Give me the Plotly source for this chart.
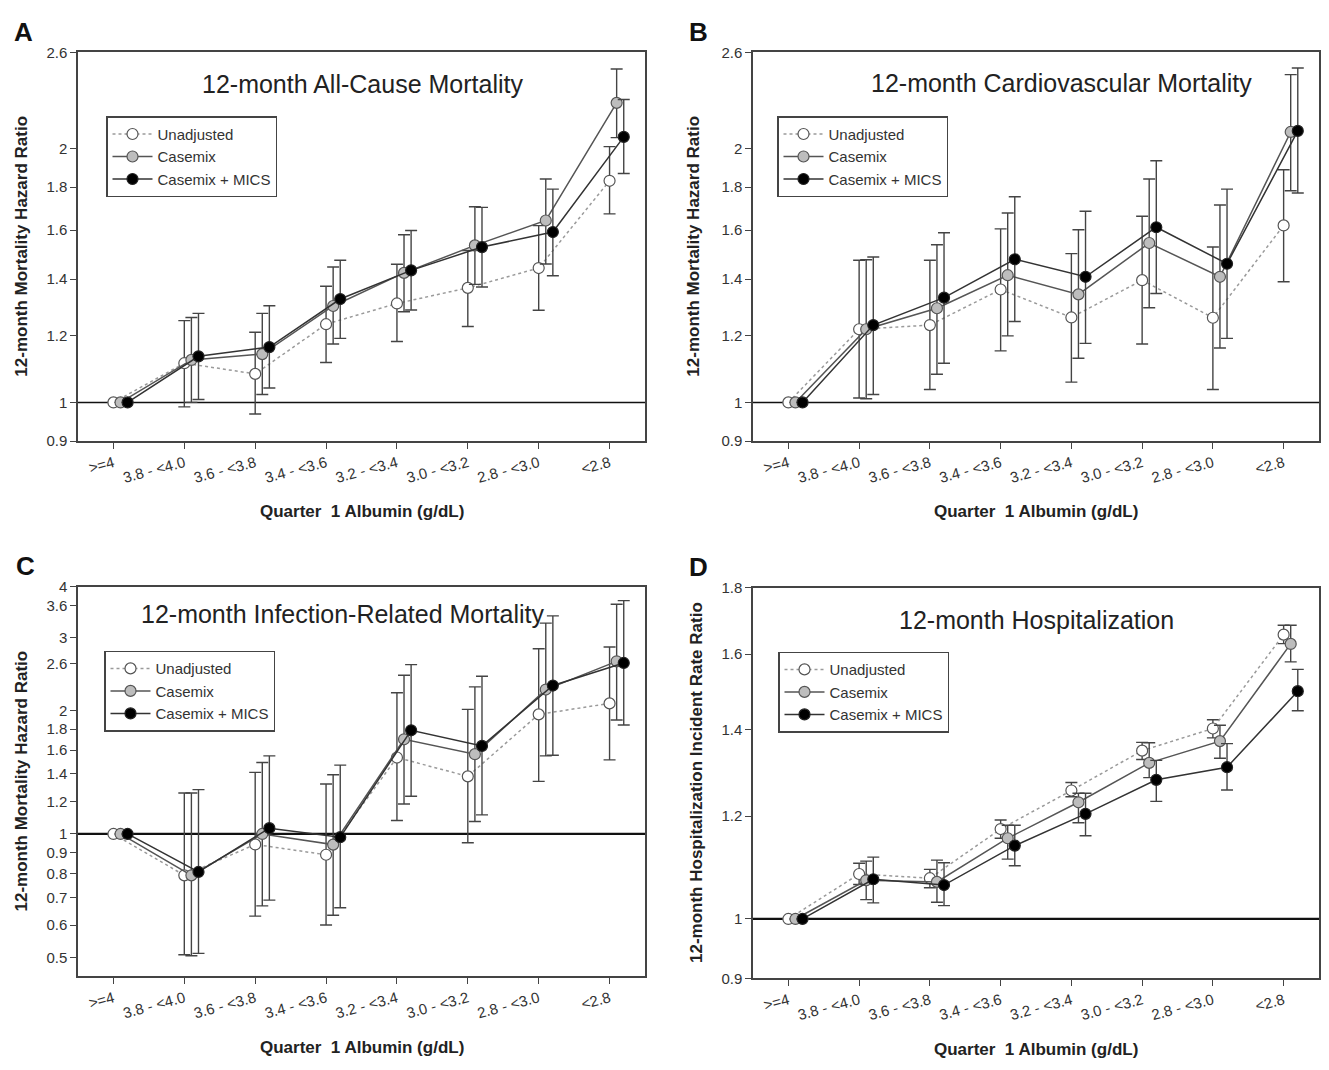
import math
import plotly.graph_objects as go

W, H = 1329, 1070

categories = [">=4", "3.8 - <4.0", "3.6 - <3.8", "3.4 - <3.6",
              "3.2 - <3.4", "3.0 - <3.2", "2.8 - <3.0", "<2.8"]
series_names = ["Unadjusted", "Casemix", "Casemix + MICS"]

# Panel A: 12-month all-cause mortality
a_unadj    = [1.00, 1.113, 1.081, 1.238, 1.310, 1.367, 1.443, 1.831]
a_unadj_lo = [1.00, 0.988, 0.969, 1.115, 1.181, 1.230, 1.286, 1.673]
a_unadj_hi = [1.00, 1.250, 1.211, 1.373, 1.458, 1.514, 1.620, 2.010]
a_case     = [1.00, 1.123, 1.141, 1.301, 1.424, 1.535, 1.643, 2.265]
a_case_lo  = [1.00, 1.000, 1.022, 1.173, 1.281, 1.380, 1.459, 2.060]
a_case_hi  = [1.00, 1.261, 1.275, 1.447, 1.580, 1.706, 1.840, 2.484]
a_mics     = [1.00, 1.134, 1.163, 1.326, 1.434, 1.528, 1.592, 2.064]
a_mics_lo  = [1.00, 1.008, 1.040, 1.191, 1.287, 1.370, 1.413, 1.868]
a_mics_hi  = [1.00, 1.275, 1.302, 1.474, 1.599, 1.703, 1.790, 2.286]

# Panel B: 12-month cardiovascular mortality
b_unadj    = [1.00, 1.221, 1.235, 1.361, 1.261, 1.396, 1.260, 1.621]
b_unadj_lo = [1.00, 1.012, 1.036, 1.151, 1.057, 1.173, 1.036, 1.390]
b_unadj_hi = [1.00, 1.474, 1.474, 1.606, 1.501, 1.662, 1.528, 1.887]
b_case     = [1.00, 1.221, 1.293, 1.415, 1.343, 1.545, 1.409, 2.092]
b_case_lo  = [1.00, 1.010, 1.080, 1.199, 1.128, 1.295, 1.160, 1.782]
b_case_hi  = [1.00, 1.476, 1.538, 1.677, 1.602, 1.840, 1.714, 2.446]
b_mics     = [1.00, 1.235, 1.331, 1.478, 1.409, 1.613, 1.460, 2.098]
b_mics_lo  = [1.00, 1.022, 1.113, 1.247, 1.175, 1.346, 1.191, 1.771]
b_mics_hi  = [1.00, 1.487, 1.589, 1.753, 1.685, 1.934, 1.790, 2.491]

# Panel C: 12-month infection-related mortality
c_unadj    = [1.00, 0.793, 0.943, 0.890, 1.535, 1.381, 1.955, 2.079]
c_unadj_lo = [1.00, 0.508, 0.631, 0.600, 1.078, 0.952, 1.343, 1.515]
c_unadj_hi = [1.00, 1.258, 1.412, 1.323, 2.206, 2.010, 2.825, 2.852]
c_case     = [1.00, 0.793, 1.000, 0.942, 1.700, 1.564, 2.247, 2.632]
c_case_lo  = [1.00, 0.505, 0.668, 0.634, 1.183, 1.072, 1.549, 1.894]
c_case_hi  = [1.00, 1.258, 1.493, 1.393, 2.435, 2.281, 3.260, 3.625]
c_mics     = [1.00, 0.808, 1.033, 0.982, 1.788, 1.638, 2.298, 2.608]
c_mics_lo  = [1.00, 0.512, 0.690, 0.661, 1.235, 1.113, 1.555, 1.842]
c_mics_hi  = [1.00, 1.282, 1.549, 1.471, 2.584, 2.421, 3.396, 3.700]

# Panel D: 12-month hospitalization
d_unadj    = [1.00, 1.083, 1.075, 1.173, 1.256, 1.348, 1.402, 1.656]
d_unadj_lo = [1.00, 1.063, 1.057, 1.154, 1.242, 1.327, 1.379, 1.630]
d_unadj_hi = [1.00, 1.104, 1.092, 1.192, 1.274, 1.368, 1.424, 1.684]
d_case     = [1.00, 1.071, 1.068, 1.154, 1.230, 1.319, 1.371, 1.629]
d_case_lo  = [1.00, 1.035, 1.030, 1.112, 1.186, 1.285, 1.330, 1.578]
d_case_hi  = [1.00, 1.108, 1.110, 1.181, 1.250, 1.367, 1.410, 1.684]
d_mics     = [1.00, 1.073, 1.062, 1.139, 1.205, 1.280, 1.309, 1.498]
d_mics_lo  = [1.00, 1.029, 1.024, 1.099, 1.159, 1.232, 1.257, 1.447]
d_mics_hi  = [1.00, 1.116, 1.105, 1.181, 1.250, 1.325, 1.365, 1.557]

# y tick labels
ab_ticks = [0.9, 1, 1.2, 1.4, 1.6, 1.8, 2, 2.6]
c_ticks = [0.5, 0.6, 0.7, 0.8, 0.9, 1, 1.2, 1.4, 1.6, 1.8, 2, 2.6, 3, 3.6, 4]
d_ticks = [0.9, 1, 1.2, 1.4, 1.6, 1.8]

panels = [
    dict(letter="A", title="12-month All-Cause Mortality",
         ytitle="12-month Mortality Hazard Ratio",
         data=[(a_unadj, a_unadj_lo, a_unadj_hi), (a_case, a_case_lo, a_case_hi),
               (a_mics, a_mics_lo, a_mics_hi)],
         ticks=ab_ticks, yr=(0.9, 2.6),
         box=(78, 645, 44, 439), ttl=(362, 76), leg=(106, 109),
         ytx=22, letpos=(24, 23), line1w=1.5),
    dict(letter="B", title="12-month Cardiovascular Mortality",
         ytitle="12-month Mortality Hazard Ratio",
         data=[(b_unadj, b_unadj_lo, b_unadj_hi), (b_case, b_case_lo, b_case_hi),
               (b_mics, b_mics_lo, b_mics_hi)],
         ticks=ab_ticks, yr=(0.9, 2.6),
         box=(753, 1319, 44, 439), ttl=(1061, 75), leg=(777, 109),
         ytx=694, letpos=(698, 23), line1w=1.5),
    dict(letter="C", title="12-month Infection-Related Mortality",
         ytitle="12-month Mortality Hazard Ratio",
         data=[(c_unadj, c_unadj_lo, c_unadj_hi), (c_case, c_case_lo, c_case_hi),
               (c_mics, c_mics_lo, c_mics_hi)],
         ticks=c_ticks, yr=(0.45, 4.0),
         box=(78, 645, 587, 983), ttl=(342, 615), leg=(104, 652),
         ytx=22, letpos=(25, 566), line1w=2.2),
    dict(letter="D", title="12-month Hospitalization",
         ytitle="12-month Hospitalization Incident Rate Ratio",
         data=[(d_unadj, d_unadj_lo, d_unadj_hi), (d_case, d_case_lo, d_case_hi),
               (d_mics, d_mics_lo, d_mics_hi)],
         ticks=d_ticks, yr=(0.9, 1.8),
         box=(753, 1319, 588, 985), ttl=(1036, 621), leg=(778, 653),
         ytx=696, letpos=(698, 567), line1w=2.2),
]

offsets = [0.0, 0.1, 0.2]
styles = [
    dict(line=dict(color="#9a9a9a", width=1.5, dash="dot"),
         marker=dict(color="white", size=11, line=dict(color="#555", width=1.2))),
    dict(line=dict(color="#555555", width=1.5),
         marker=dict(color="#bdbdbd", size=11, line=dict(color="#555", width=1.2))),
    dict(line=dict(color="#333333", width=1.5),
         marker=dict(color="black", size=11, line=dict(color="#222", width=1.2))),
]

FONT = "Liberation Sans, Arial, sans-serif"
fig = go.Figure()
layout = dict(width=W, height=H, margin=dict(l=0, r=0, t=0, b=0),
              paper_bgcolor="white", plot_bgcolor="white",
              font=dict(family=FONT, color="#222"),
              annotations=[])


def fmt(v):
    return "%g" % v


for i, p in enumerate(panels):
    n = "" if i == 0 else str(i + 1)
    xa, ya = "x" + n, "y" + n
    legname = "legend" + n
    x0, x1, y0, y1 = p["box"]
    # reference line at ratio = 1
    fig.add_trace(go.Scatter(x=[-0.5, 7.5], y=[1, 1], mode="lines",
                             line=dict(color="#111", width=p["line1w"]),
                             xaxis=xa, yaxis=ya, showlegend=False, hoverinfo="skip"))
    for k, (vals, lo, hi) in enumerate(p["data"]):
        xs = [j + offsets[k] for j in range(len(categories))]
        fig.add_trace(go.Scatter(
            x=xs, y=vals, mode="lines+markers", name=series_names[k],
            line=styles[k]["line"], marker=styles[k]["marker"],
            error_y=dict(type="data", symmetric=False,
                         array=[h - v for h, v in zip(hi, vals)],
                         arrayminus=[v - l for v, l in zip(vals, lo)],
                         color="#444", thickness=1.4, width=6),
            xaxis=xa, yaxis=ya, legend=legname, showlegend=True))
    axcommon = dict(showline=True, linecolor="#444", linewidth=1.5, mirror=True,
                    ticks="outside", ticklen=6, tickcolor="#444", tickwidth=1.2,
                    showgrid=False, zeroline=False,
                    tickfont=dict(family=FONT, size=15, color="#333"))
    layout["xaxis" + n] = dict(axcommon, domain=[x0 / W, x1 / W], range=[-0.5, 7.5],
                               anchor=ya, tickvals=list(range(len(categories))),
                               ticktext=categories, tickangle=-15)
    layout["yaxis" + n] = dict(axcommon, domain=[1 - y1 / H, 1 - y0 / H], type="log",
                               anchor=xa, tickvals=p["ticks"],
                               ticktext=[fmt(t) for t in p["ticks"]],
                               range=[math.log10(p["yr"][0]), math.log10(p["yr"][1])])
    layout[legname] = dict(x=p["leg"][0] / W, y=1 - p["leg"][1] / H,
                           xanchor="left", yanchor="top",
                           bgcolor="white", bordercolor="#444", borderwidth=1.5,
                           font=dict(family=FONT, size=15, color="#333"),
                           itemwidth=40, tracegroupgap=0,
                           entrywidth=128, entrywidthmode="pixels")
    ann = layout["annotations"]
    common = dict(xref="paper", yref="paper", showarrow=False,
                  xanchor="center", yanchor="middle")
    ann.append(dict(common, text=p["title"], x=p["ttl"][0] / W, y=1 - p["ttl"][1] / H,
                    font=dict(family=FONT, size=25, color="#222")))
    ann.append(dict(common, text="<b>" + p["letter"] + "</b>", x=p["letpos"][0] / W,
                    y=1 - p["letpos"][1] / H,
                    font=dict(family=FONT, size=26, color="#111")))
    ann.append(dict(common, text="<b>" + p["ytitle"] + "</b>", x=p["ytx"] / W,
                    y=1 - (y0 + y1) / 2 / H, textangle=-90,
                    font=dict(family=FONT, size=17, color="#222")))
    ann.append(dict(common, text="<b>Quarter\u00a0 1 Albumin (g/dL)</b>",
                    x=(x0 + x1) / 2 / W, y=1 - (y1 + 72) / H,
                    font=dict(family=FONT, size=17, color="#222")))

fig.update_layout(**layout)
fig.write_html("out.html")
